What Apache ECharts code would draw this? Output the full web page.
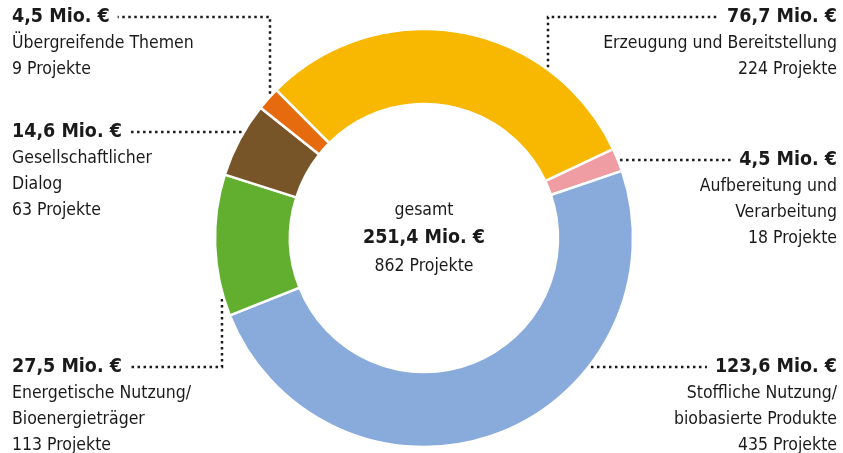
<!DOCTYPE html>
<html>
<head>
<meta charset="utf-8">
<script src="https://cdn.jsdelivr.net/npm/echarts@6/dist/echarts.min.js"></script>
<style>
html,body{margin:0;padding:0;background:#fff;}
#chart{width:843px;height:453px;}
</style>
</head>
<body>
<div id="chart"></div>
<script>
// ---- data ----
const categories = [
  'Erzeugung und Bereitstellung',
  'Aufbereitung und\nVerarbeitung',
  'Stoffliche Nutzung/\nbiobasierte Produkte',
  'Energetische Nutzung/\nBioenergieträger',
  'Gesellschaftlicher\nDialog',
  'Übergreifende Themen'
];
const fundingMio = [76.7, 4.5, 123.6, 27.5, 14.6, 4.5];
const projectCounts = [224, 18, 435, 113, 63, 9];
const totalCaption = 'gesamt';

// ---- styles / layout ----
const colors = ['#F8B700', '#F09CA3', '#88ABDB', '#62AE2F', '#775529', '#E66A0E'];
const FONT = '"DejaVu Sans Condensed", "Liberation Sans Narrow", "Liberation Sans", sans-serif';
const VALUE_SIZE = 19.5, NAME_SIZE = 17.5, LINE_H = 26;
const TEXT_COLOR = '#1a1a1a';
const CX = 424, CY = 238, R_OUT = 209, R_IN = 134;
const labelPlacement = [
  {side: 'right', top: 4,   bendX: 548},
  {side: 'right', top: 147, bendX: null},
  {side: 'right', top: 354, bendX: null},
  {side: 'left',  top: 354, bendX: 222},
  {side: 'left',  top: 119, bendX: null},
  {side: 'left',  top: 4,   bendX: 270}
];
const LEFT_X = 12, RIGHT_X = 837, GAP = 8, EDGE_GAP = 2;

const fmt = v => v.toFixed(1).replace('.', ',');
const measureCtx = document.createElement('canvas').getContext('2d');
function textWidth(txt, size, weight) {
  measureCtx.font = weight + ' ' + size + 'px ' + FONT;
  return measureCtx.measureText(txt).width;
}

const totalMio = fundingMio.reduce((a, b) => a + b, 0);
const totalProjects = projectCounts.reduce((a, b) => a + b, 0);

const chart = echarts.init(document.getElementById('chart'), null, {renderer: 'canvas'});

const data = categories.map((name, i) => ({
  name: name,
  value: fundingMio[i],
  itemStyle: {color: colors[i]}
}));

chart.setOption({
  backgroundColor: '#ffffff',
  animation: false,
  series: [{
    type: 'pie',
    center: [CX, CY],
    radius: [R_IN, R_OUT],
    startAngle: 135,
    clockwise: true,
    avoidLabelOverlap: false,
    itemStyle: {borderColor: '#ffffff', borderWidth: 2.5},
    data: data,
    label: {
      show: true,
      position: 'outside',
      fontFamily: FONT,
      color: TEXT_COLOR,
      formatter: p => '{v|' + fmt(p.value) + ' Mio. €}\n' +
        p.name.split('\n').map(s => '{n|' + s + '}').join('\n') +
        '\n{n|' + projectCounts[p.dataIndex] + ' Projekte}',
      rich: {
        v: {fontFamily: FONT, fontSize: VALUE_SIZE, fontWeight: 'bold', lineHeight: LINE_H, color: TEXT_COLOR},
        n: {fontFamily: FONT, fontSize: NAME_SIZE, lineHeight: LINE_H, color: TEXT_COLOR}
      }
    },
    labelLine: {
      show: true,
      lineStyle: {color: '#1a1a1a', width: 2.5, type: [2.5, 3.5]}
    },
    labelLayout: function (params) {
      const i = params.dataIndex;
      const pl = labelPlacement[i];
      const valueText = fmt(fundingMio[i]) + ' Mio. €';
      const w = textWidth(valueText, VALUE_SIZE, 'bold');
      const midY = pl.top + LINE_H / 2;
      const left = pl.side === 'left';
      const x = left ? LEFT_X : RIGHT_X;
      const lineStartX = left ? LEFT_X + w + GAP : RIGHT_X - w - GAP;
      const R = R_OUT + EDGE_GAP;
      let pts;
      if (pl.bendX != null) {
        const dx = pl.bendX - CX;
        const dy = Math.sqrt(R * R - dx * dx);
        const ey = midY < CY ? CY - dy : CY + dy;
        pts = [[pl.bendX, ey], [pl.bendX, midY], [lineStartX, midY]];
      } else {
        const dy = midY - CY;
        const dx = Math.sqrt(R * R - dy * dy);
        const ex = left ? CX - dx : CX + dx;
        pts = [[ex, midY], [(ex + lineStartX) / 2, midY], [lineStartX, midY]];
      }
      return {
        x: x,
        y: pl.top,
        align: left ? 'left' : 'right',
        verticalAlign: 'top',
        labelLinePoints: pts
      };
    }
  }],
  graphic: [{
    type: 'text',
    x: CX,
    y: CY,
    style: {
      text: '{c|' + totalCaption + '}\n{v|' + fmt(totalMio) + ' Mio. €}\n{c|' + totalProjects + ' Projekte}',
      align: 'center',
      verticalAlign: 'middle',
      fontFamily: FONT,
      rich: {
        c: {fontFamily: FONT, fontSize: NAME_SIZE, lineHeight: 28, fill: TEXT_COLOR, align: 'center'},
        v: {fontFamily: FONT, fontSize: VALUE_SIZE, fontWeight: 'bold', lineHeight: 28, fill: TEXT_COLOR, align: 'center'}
      }
    }
  }]
});
</script>
</body>
</html>
